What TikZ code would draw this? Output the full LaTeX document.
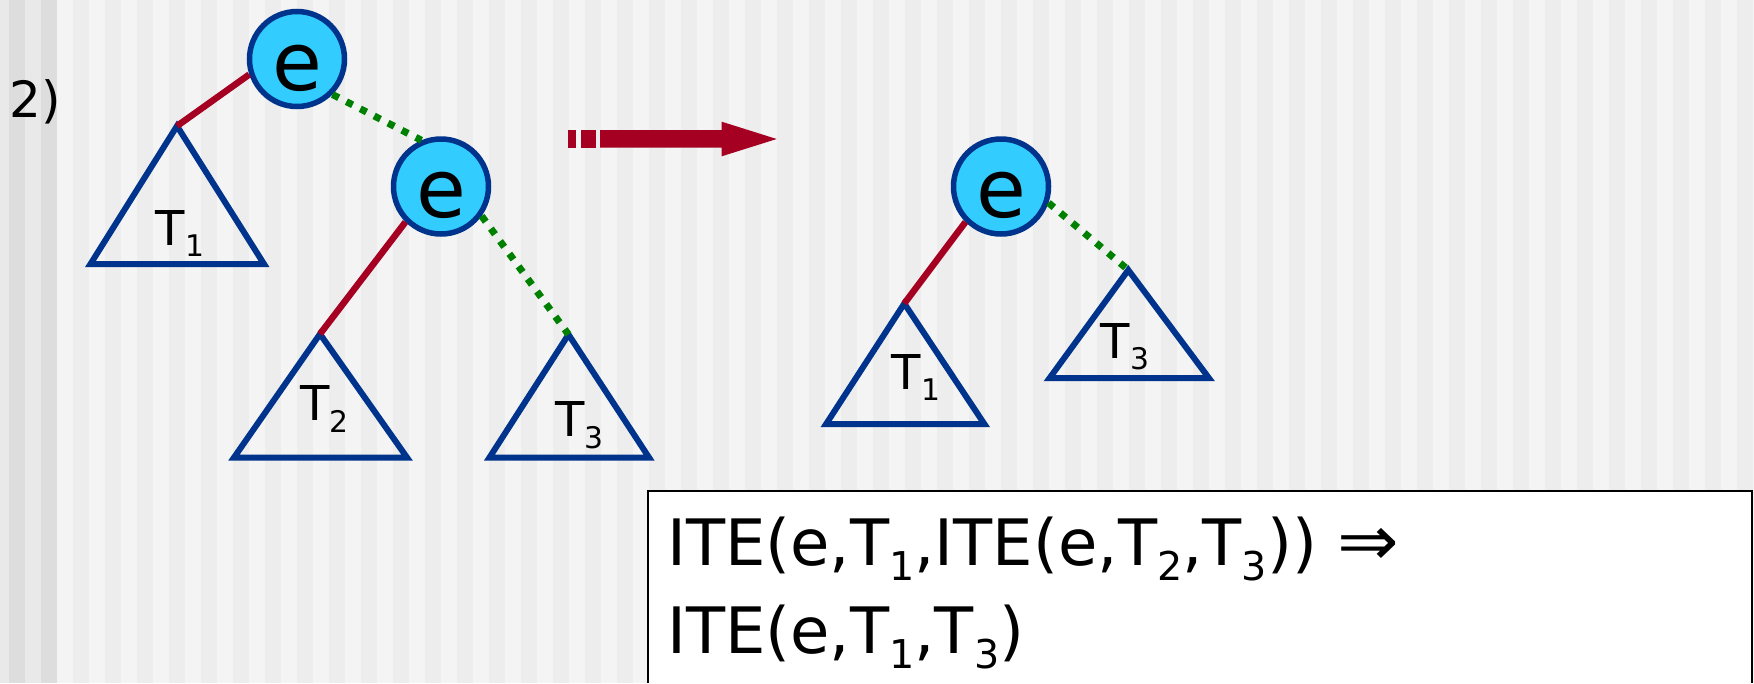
\documentclass[tikz,border=0pt]{standalone}
\usepackage{fontspec}
\setmainfont{DejaVu Sans}
\usepackage{graphicx}
\definecolor{treeblue}{HTML}{00338C}
\definecolor{nodecyan}{HTML}{33CCFF}
\definecolor{thenred}{HTML}{A50021}
\definecolor{elsegreen}{HTML}{008000}
\definecolor{stripea}{HTML}{F4F4F4}
\definecolor{stripeb}{HTML}{EDEDED}
\definecolor{stripec}{HTML}{E9E9E9}
\definecolor{striped}{HTML}{DDDDDD}
\newcommand{\lo}[1]{\raisebox{-0.24em}{\scalebox{0.62}{#1}}}
\begin{document}
\begin{tikzpicture}[x=1pt,y=-1pt,
  enode/.style={circle,draw=treeblue,line width=5.5pt,fill=nodecyan,
    minimum size=95pt,inner sep=0pt,text height=62pt,text depth=0pt,
    font=\fontsize{81}{81}\selectfont},
  subtree/.style={draw=treeblue,line width=6pt,line join=miter},
  tlabel/.style={anchor=base west,inner sep=0pt,font=\fontsize{48}{48}\selectfont},
  thenedge/.style={draw=thenred,line width=6.5pt},
  elseedge/.style={draw=elsegreen,line width=7pt,dash pattern=on 7pt off 8.6pt}]
  \useasboundingbox (0,0) rectangle (1754,683);
  % striped slide background
  \fill[stripeb] (0,0) rectangle (1754,683);
  \fill[stripec] (0,0) rectangle (57,683);
  \foreach \x in {9,41}
    \fill[striped] (\x,0) rectangle ++(16,683);
  \foreach \x in {57,89,...,1753}
    \fill[stripea] (\x,0) rectangle ++(16,683);
  \node[anchor=base west,inner sep=0pt,font=\fontsize{50}{50}\selectfont] (case) at (9,117.3) {2)};
  % left tree
  \node[enode] (e1) at (297,59) {e};
  \node[enode] (e2) at (441,186.5) {e};
  \coordinate (t1top) at (177,126);
  \coordinate (t2top) at (320,334);
  \coordinate (t3top) at (568.5,334.5);
  \draw[subtree] (t1top) -- ++(-86.5,138) -- ++(173.5,0) -- cycle;
  \draw[subtree] (t2top) -- ++(-86,123.5) -- ++(173,0) -- cycle;
  \draw[subtree] (t3top) -- ++(-79,123) -- ++(159.5,0) -- cycle;
  \node[tlabel] (l1) at (155.7,245) {T\lo{1}};
  \node[tlabel] (l2) at (300,420.7) {T\lo{2}};
  \node[tlabel] (l3) at (555,436.7) {T\lo{3}};
  \draw[thenedge] (e1.198) -- (t1top);
  \draw[elseedge] (e1.315) -- (e2.113);
  \draw[thenedge] (e2.225) -- (t2top);
  \draw[elseedge] (e2.324) -- (t3top);
  % rewrite arrow
  \fill[thenred] (567.7,130) rectangle (576,147.7);
  \fill[thenred] (580.7,130) rectangle (595.7,147.7);
  \fill[thenred] (600,130) -- (721.7,130) -- (721.7,121.7) -- (776.7,139)
    -- (721.7,156.3) -- (721.7,147.7) -- (600,147.7) -- cycle;
  % right tree
  \node[enode] (e3) at (1001,186.5) {e};
  \coordinate (t4top) at (904.3,303.5);
  \coordinate (t5top) at (1128.3,270);
  \draw[subtree] (t4top) -- ++(-78.3,120.7) -- ++(158.5,0) -- cycle;
  \draw[subtree] (t5top) -- ++(-78.8,108.2) -- ++(159.5,0) -- cycle;
  \node[tlabel] (l4) at (891.7,389.3) {T\lo{1}};
  \node[tlabel] (l5) at (1100.7,358.3) {T\lo{3}};
  \draw[thenedge] (e3.225) -- (t4top);
  \draw[elseedge] (e3.341) -- (t5top);
  % rule box
  \fill[white] (648,491) rectangle (1752,683);
  \draw[line width=2pt] (648,683) |- (1752,491) -- (1752,683);
  \node[anchor=base west,inner sep=0pt,font=\fontsize{64}{64}\selectfont] (rule1) at (667,565)
    {ITE(e,T\lo{1},ITE(e,T\lo{2},T\lo{3})) \scalebox{1.15}[1.1]{⇒}};
  \node[anchor=base west,inner sep=0pt,font=\fontsize{64}{64}\selectfont] (rule2) at (667,653)
    {ITE(e,T\lo{1},T\lo{3})};
\end{tikzpicture}
\end{document}
